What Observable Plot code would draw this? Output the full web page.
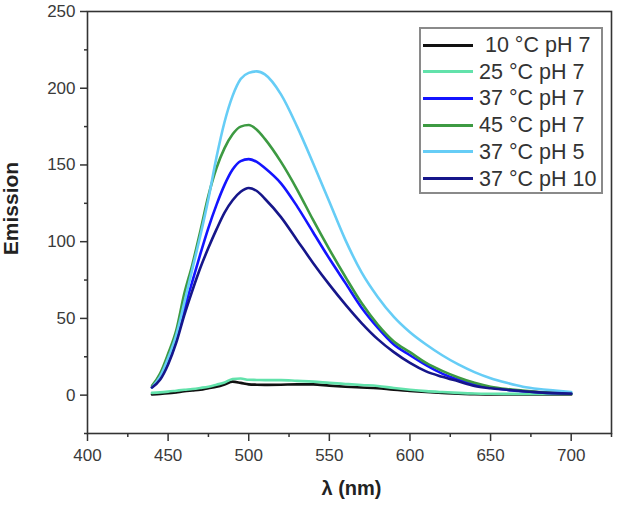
<!DOCTYPE html>
<html>
<head>
<meta charset="utf-8">
<script src="https://cdn.jsdelivr.net/npm/d3@7"></script>
<script src="https://cdn.jsdelivr.net/npm/@observablehq/plot@0.6"></script>
<style>
  html, body { margin: 0; padding: 0; background: #fff; }
  #wrap { position: relative; width: 617px; height: 505px; }
  #legend { position: absolute; left: 419px; top: 27px; width: 184px; height: 167px;
            box-sizing: border-box; border: 2px solid #8a8a8a; background: #fff;
            font-family: "Liberation Sans", Arial, sans-serif; font-size: 21.5px; color: #333; }
  .row { position: absolute; left: 0; height: 26px; }
  .sw { position: absolute; left: 2px; width: 50px; height: 3px; }
  .lb { position: absolute; left: 58px; white-space: pre; line-height: 26px; top: 0; }
</style>
</head>
<body>
<div id="wrap"><div id="chart"></div><div id="legend"></div></div>
<script>
const wavelengths = [440,445,450,455,460,465,470,475,480,485,490,495,500,505,510,520,530,540,550,560,570,580,590,600,610,620,630,640,650,660,670,680,690,700];

const series = ["10 °C pH 7", "25 °C pH 7", "37 °C pH 7", "45 °C pH 7", "37 °C pH 5", "37 °C pH 10"];
const legendLabels = [" 10 °C pH 7", "25 °C pH 7", "37 °C pH 7", "45 °C pH 7", "37 °C pH 5", "37 °C pH 10"];
const colors = ["#111111", "#62e2ab", "#1414ff", "#3d9a42", "#66cdf6", "#16168a"];

const t10pH7 = [0.5,0.8,1.2,1.8,2.5,3,3.5,4.5,5.5,7,8.8,8,7,6.8,6.7,6.8,7,7,6.2,5.5,5,4.5,3.5,2.8,2,1.4,1,0.6,0.5,0.4,0.4,0.4,0.4,0.4];
const t25pH7 = [1.5,1.8,2.3,2.9,3.5,4,4.7,5.5,6.8,8.2,10.5,10.8,10,9.9,9.8,9.8,9.3,8.8,8,7.3,6.6,6,4.6,3.5,2.6,2,1.5,1.1,0.9,0.8,0.8,0.8,0.8,0.8];
const t37pH7 = [5,11,22,37,56,74,92,109,124,137,147,152.5,153.8,152,148,138,123,106,89,73,57,44,33,26,19.5,14,10,7,5,3.5,2.5,1.8,1.3,1];
const t45pH7 = [6,14,27,42,66,85,107,130,148,161,170,175,176,173,167,152,134,114,95,77,60,46,35,28,21,15.8,11.5,8,5.5,4,3,2,1.5,1];
const t37pH5 = [5,12,24,39,60,82,104,128,155,178,195,206,210,211,209,196,175,151,126,101,80,64,51,41,33,26,20,15,11,8,5.5,4,3,2];
const t37pH10 = [5,10,20,34,52,68,83,96,108,119,127,132.5,135,133,128,116,101,86,72,59,47,36.5,28,21,15.5,12,9,6,4.5,3.5,2.5,1.8,1.3,1];

const xMajor = [400,450,500,550,600,650,700];
const xMinor = [425,475,525,575,625,675,725];
const yMajor = [0,50,100,150,200,250];
const yMinor = [-25,25,75,125,175,225];

const values = [t10pH7, t25pH7, t37pH7, t45pH7, t37pH5, t37pH10];
const rows = [];
series.forEach((s, i) => wavelengths.forEach((w, j) => rows.push({series: s, wl: w, v: values[i][j]})));

const axisColor = "#333";
const chart = Plot.plot({
  width: 617, height: 505,
  marginLeft: 87, marginRight: 6, marginTop: 11, marginBottom: 72,
  style: {fontFamily: "'Liberation Sans', Arial, sans-serif", fontSize: "17px", color: "#3a3a3a", background: "#fff"},
  x: {domain: [400, 725], axis: null},
  y: {domain: [-25, 250], axis: null},
  color: {domain: series, range: colors},
  marks: [
    Plot.axisX(xMajor, {anchor: "bottom", tickSize: 8, tickPadding: 7, label: null, stroke: axisColor, strokeWidth: 1.5, tickFormat: d => String(d)}),
    Plot.axisX(xMinor, {anchor: "bottom", tickSize: 4, label: null, stroke: axisColor, strokeWidth: 1.5, tickFormat: () => ""}),
    Plot.axisY(yMajor, {anchor: "left", tickSize: 7, tickPadding: 5, label: null, stroke: axisColor, strokeWidth: 1.5, tickFormat: d => String(d)}),
    Plot.axisY(yMinor, {anchor: "left", tickSize: 3, label: null, stroke: axisColor, strokeWidth: 1.5, tickFormat: () => ""}),
    Plot.line(rows, {x: "wl", y: "v", z: "series", stroke: "series", strokeWidth: 2.6, curve: "monotone-x"}),
    Plot.frame({stroke: axisColor, strokeWidth: 1.6}),
    Plot.text(["λ (nm)"], {frameAnchor: "bottom", dy: 61, dx: 2, text: d => d, fontWeight: "bold", fontSize: 20, fill: "#222"}),
    Plot.text(["Emission"], {frameAnchor: "left", textAnchor: "middle", dx: -76, dy: -14, rotate: -90, text: d => d, fontWeight: "bold", fontSize: 21, fill: "#222"})
  ]
});
document.getElementById("chart").appendChild(chart);

const legend = document.getElementById("legend");
legendLabels.forEach((lab, i) => {
  const row = document.createElement("div");
  row.className = "row";
  row.style.top = (3 + i * 26.7) + "px";
  const sw = document.createElement("div");
  sw.className = "sw";
  sw.style.background = colors[i];
  sw.style.top = "11.5px";
  const lb = document.createElement("div");
  lb.className = "lb";
  lb.textContent = lab;
  row.appendChild(sw); row.appendChild(lb);
  legend.appendChild(row);
});
</script>
</body>
</html>
